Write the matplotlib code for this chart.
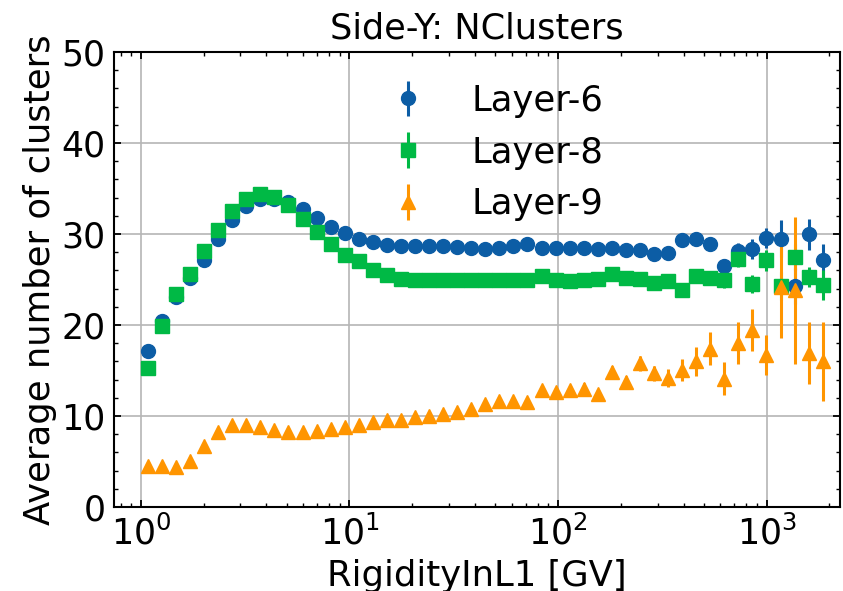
import matplotlib
matplotlib.use("Agg")
import matplotlib.pyplot as plt
from matplotlib.ticker import AutoMinorLocator

# bin centres (GV)
rigidity = [1.081, 1.262, 1.474, 1.721, 2.010, 2.348, 2.742, 3.202, 3.740, 4.368,
            5.101, 5.958, 6.958, 8.126, 9.49, 11.08, 12.94, 15.12, 17.66, 20.62,
            24.08, 28.13, 32.85, 38.36, 44.80, 52.33, 61.11, 71.37, 83.35, 97.34,
            113.7, 132.8, 155.0, 181.1, 211.5, 247.0, 288.5, 336.9, 393.5, 459.5,
            536.7, 626.8, 732.0, 855.0, 998.4, 1166, 1362, 1590, 1857]

layer6 = [17.1, 20.4, 23.1, 25.2, 27.1, 29.4, 31.5, 33.1, 33.8, 33.8,
          33.5, 32.8, 31.8, 30.8, 30.1, 29.4, 29.1, 28.8, 28.7, 28.7,
          28.7, 28.7, 28.6, 28.5, 28.4, 28.5, 28.7, 28.9, 28.5, 28.5,
          28.5, 28.5, 28.4, 28.5, 28.3, 28.3, 27.8, 27.9, 29.3, 29.5,
          28.9, 26.5, 28.1, 28.4, 29.6, 29.5, 24.3, 30.0, 27.1]
layer6_err = [0.1, 0.1, 0.1, 0.1, 0.1, 0.1, 0.1, 0.1, 0.1, 0.1,
              0.15, 0.15, 0.15, 0.15, 0.15, 0.15, 0.15, 0.2, 0.2, 0.2,
              0.2, 0.2, 0.2, 0.2, 0.2, 0.2, 0.25, 0.25, 0.25, 0.3,
              0.3, 0.3, 0.35, 0.35, 0.4, 0.4, 0.45, 0.5, 0.6, 0.6,
              0.7, 0.8, 0.9, 1.1, 1.1, 2.0, 2.0, 1.7, 1.8]

layer8 = [15.3, 19.9, 23.4, 25.6, 28.1, 30.4, 32.5, 33.9, 34.4, 34.1,
          33.2, 31.6, 30.2, 28.9, 27.7, 27.0, 26.0, 25.5, 25.1, 24.9,
          24.9, 24.9, 24.9, 25.0, 25.0, 24.9, 25.0, 25.0, 25.4, 24.9,
          24.8, 24.9, 25.1, 25.6, 25.2, 25.1, 24.6, 24.8, 23.9, 25.4,
          25.2, 24.9, 27.3, 24.5, 27.1, 24.3, 27.5, 25.3, 24.4]
layer8_err = [0.1, 0.1, 0.1, 0.1, 0.1, 0.1, 0.1, 0.1, 0.1, 0.1,
              0.15, 0.15, 0.15, 0.15, 0.15, 0.15, 0.15, 0.2, 0.2, 0.2,
              0.2, 0.2, 0.2, 0.2, 0.2, 0.2, 0.25, 0.25, 0.25, 0.3,
              0.3, 0.3, 0.35, 0.35, 0.4, 0.4, 0.45, 0.5, 0.6, 0.6,
              0.7, 0.8, 0.9, 1.0, 1.2, 1.5, 1.4, 1.1, 1.7]

layer9 = [4.5, 4.5, 4.4, 5.1, 6.7, 8.3, 9.0, 9.0, 8.8, 8.5,
          8.3, 8.2, 8.4, 8.6, 8.8, 9.0, 9.4, 9.6, 9.6, 9.9,
          10.0, 10.2, 10.4, 10.8, 11.3, 11.7, 11.7, 11.5, 12.9, 12.6,
          12.9, 13.0, 12.4, 14.8, 13.7, 15.8, 14.7, 14.2, 15.1, 16.0,
          17.4, 14.1, 18.0, 19.5, 16.7, 24.2, 23.8, 16.9, 16.0]
layer9_err = [0.15, 0.15, 0.15, 0.15, 0.2, 0.2, 0.2, 0.2, 0.2, 0.2,
              0.2, 0.2, 0.25, 0.25, 0.25, 0.25, 0.3, 0.3, 0.3, 0.3,
              0.35, 0.35, 0.35, 0.4, 0.4, 0.4, 0.45, 0.45, 0.5, 0.5,
              0.55, 0.6, 0.6, 0.7, 0.7, 0.8, 0.8, 1.0, 1.2, 1.6,
              1.8, 1.8, 2.3, 2.3, 2.2, 5.6, 8.1, 3.4, 4.3]

series = [
    ("Layer-6", layer6, layer6_err, "o", "#0C5DA5"),
    ("Layer-8", layer8, layer8_err, "s", "#00B945"),
    ("Layer-9", layer9, layer9_err, "^", "#FF9500"),
]

plt.rcParams["font.family"] = "DejaVu Sans"
plt.rcParams["font.size"] = 25
plt.rcParams["axes.linewidth"] = 1.5
for ax_name in ("xtick", "ytick"):
    plt.rcParams[f"{ax_name}.direction"] = "in"
    plt.rcParams[f"{ax_name}.major.size"] = 5
    plt.rcParams[f"{ax_name}.minor.size"] = 3
    plt.rcParams[f"{ax_name}.major.width"] = 1.3
    plt.rcParams[f"{ax_name}.minor.width"] = 1.0
    plt.rcParams[f"{ax_name}.labelsize"] = 25
plt.rcParams["xtick.top"] = True
plt.rcParams["ytick.right"] = True
plt.rcParams["xtick.major.pad"] = 6
plt.rcParams["ytick.major.pad"] = 6

fig = plt.figure(figsize=(8.43, 5.91), dpi=100)
ax = fig.add_axes([0.135, 0.142, 0.8615, 0.770])

for label, vals, errs, marker, color in series:
    ax.errorbar(rigidity, vals, yerr=errs, fmt=marker, color=color,
                markersize=10, elinewidth=2.2, capsize=0, label=label)

ax.set_xscale("log")
ax.set_xlim(0.742, 2250)
ax.set_ylim(0, 50)
ax.yaxis.set_minor_locator(AutoMinorLocator(5))
ax.grid(True, which="major", color="#b5b5b5", linewidth=1.2)
ax.set_axisbelow(True)

ax.set_xlabel("RigidityInL1 [GV]", fontsize=25.5, labelpad=5)
ax.set_ylabel("Average number of clusters", fontsize=25.5, labelpad=3)
ax.set_title("Side-Y: NClusters", fontsize=25.3, pad=10)
ax.legend(loc="upper center", bbox_to_anchor=(0.515, 1.0), frameon=False,
          fontsize=25.5)

fig.savefig("out.png", dpi=100)
